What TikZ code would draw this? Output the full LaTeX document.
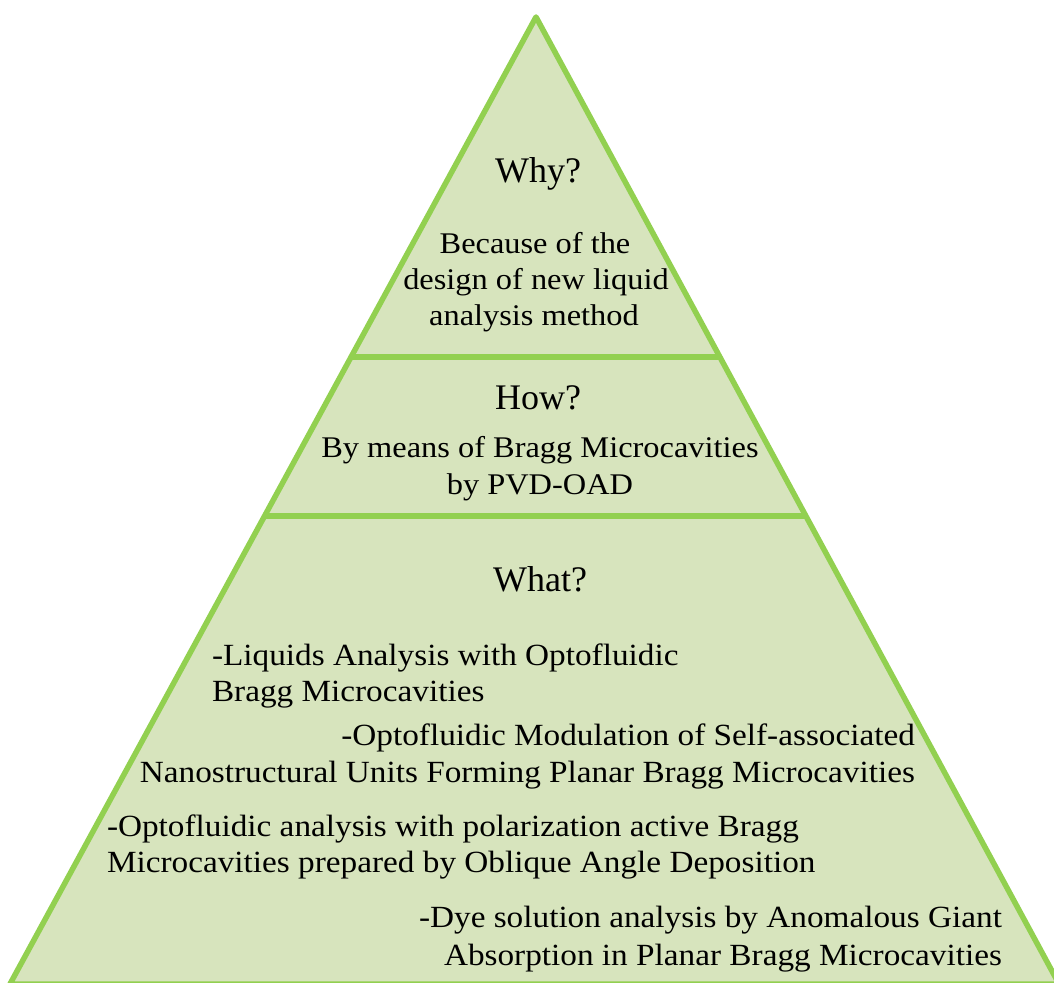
\documentclass[tikz,border=0pt]{standalone}
\usepackage{fontspec}
\setmainfont{Liberation Serif}[FakeStretch=1.08]
\newfontfamily\headfam{Liberation Serif}
\definecolor{pyrfill}{HTML}{D7E4BD}
\definecolor{pyrline}{HTML}{92D050}
\newcommand{\bodyfont}{\fontsize{30}{36}\selectfont}
\newcommand{\whatfont}{\fontsize{30.8}{36}\selectfont}
\newcommand{\headfont}{\headfam\fontsize{36}{43}\selectfont}
\begin{document}
\begin{tikzpicture}[x=1pt,y=-1pt,
  txt/.style={inner sep=0pt,outer sep=0pt,font=\bodyfont,text=black},
  wtxt/.style={inner sep=0pt,outer sep=0pt,font=\whatfont,text=black},
  head/.style={inner sep=0pt,outer sep=0pt,font=\headfont,text=black,anchor=base},
  pyredge/.style={draw=pyrline,line width=5.5pt,line join=round}]
\useasboundingbox (0,0) rectangle (1054,982);
\clip (0,0) rectangle (1054,982);
% pyramid
\coordinate (apex) at (536,17);
\coordinate (bl) at (10,984);
\coordinate (br) at (1059,984);
\coordinate (d1l) at (351,357);
\coordinate (d1r) at (720,357);
\coordinate (d2l) at (264.5,516);
\coordinate (d2r) at (806,516);
\draw[pyredge,fill=pyrfill] (apex) -- (br) -- (bl) -- cycle;
\draw[pyredge] (d1l) -- (d1r);
\draw[pyredge] (d2l) -- (d2r);
% Why
\node[head] (why) at (538,182) {Why?};
\node[txt,anchor=base] (why1) at (535,253) {Because of the};
\node[txt,anchor=base] (why2) at (536,289) {design of new liquid};
\node[txt,anchor=base] (why3) at (534,325) {analysis method};
% How
\node[head] (how) at (538,409) {How?};
\node[txt,anchor=base] (how1) at (540,457) {By means of Bragg Microcavities};
\node[txt,anchor=base] (how2) at (540,494) {by PVD-OAD};
% What
\node[head] (what) at (540,591) {What?};
\node[wtxt,anchor=base west] (w1) at (212,665) {-Liquids Analysis with Optofluidic};
\node[wtxt,anchor=base west] (w2) at (212,701) {Bragg Microcavities};
\node[wtxt,anchor=base east] (w3) at (915,745) {-Optofluidic Modulation of Self-associated};
\node[wtxt,anchor=base east] (w4) at (915,782) {Nanostructural Units Forming Planar Bragg Microcavities};
\node[wtxt,anchor=base west] (w5) at (107,836) {-Optofluidic analysis with polarization active Bragg};
\node[wtxt,anchor=base west] (w6) at (107,872) {Microcavities prepared by Oblique Angle Deposition};
\node[wtxt,anchor=base east] (w7) at (1002,927) {-Dye solution analysis by Anomalous Giant};
\node[wtxt,anchor=base east] (w8) at (1002,965) {Absorption in Planar Bragg Microcavities};
\end{tikzpicture}
\end{document}
